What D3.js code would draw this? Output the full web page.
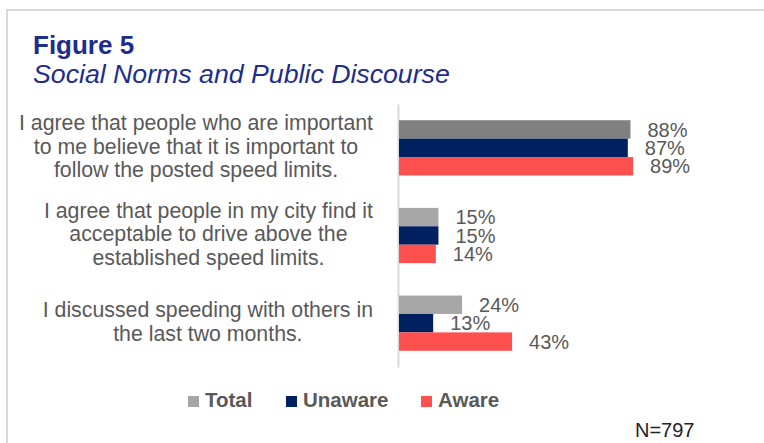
<!DOCTYPE html>
<html>
<head>
<meta charset="utf-8">
<script src="https://cdn.jsdelivr.net/npm/d3@7"></script>
<style>
  body { margin: 0; background: #fff; }
  svg { display: block; font-family: "Liberation Sans", Arial, sans-serif; }
</style>
</head>
<body>
<script>
// chart data
var categories = [
  ["I agree that people who are important", "to me believe that it is important to", "follow the posted speed limits."],
  ["I agree that people in my city find it", "acceptable to drive above the", "established speed limits."],
  ["I discussed speeding with others in", "the last two months."]
];
var seriesNames = ["Total", "Unaware", "Aware"];
var total = [88, 15, 24];
var unaware = [87, 15, 13];
var aware = [89, 14, 43];

var width = 764, height = 443;

var svg = d3.select("body").append("svg")
  .attr("width", width)
  .attr("height", height);

// frame (top + left only)
svg.append("path")
  .attr("d", "M7,443V10H764")
  .attr("fill", "none")
  .attr("stroke", "#d9d9d9")
  .attr("stroke-width", 2);

// titles
svg.append("text")
  .attr("x", 33).attr("y", 54)
  .attr("font-size", 26).attr("font-weight", "bold")
  .attr("fill", "#1e2d8c")
  .text("Figure 5");
svg.append("text")
  .attr("x", 33).attr("y", 83)
  .attr("font-size", 26.7).attr("font-style", "italic")
  .attr("fill", "#1e2d8c")
  .text("Social Norms and Public Discourse");

// scales
var x = d3.scaleLinear().domain([0, 100]).range([399, 662]);
var y = d3.scaleBand().domain(d3.range(categories.length))
  .range([104, 367]).paddingInner(0.37).paddingOuter(0.185);
var ySub = d3.scaleBand().domain(seriesNames).range([0, y.bandwidth()]);

var colors = {Total: "#a6a6a6", Unaware: "#002060", Aware: "#ff5050"};

var rows = categories.map(function(c, i) {
  return {i: i, values: [
    {key: "Total", v: total[i]},
    {key: "Unaware", v: unaware[i]},
    {key: "Aware", v: aware[i]}
  ]};
});

// axis line
svg.append("g")
  .attr("transform", "translate(398,0)")
  .call(d3.axisLeft(y).tickSize(0).tickFormat(""))
  .call(function(g) {
    g.select(".domain").attr("stroke", "#d9d9d9").attr("stroke-width", 2);
  });

var groups = svg.selectAll(".grp")
  .data(rows)
  .enter().append("g")
  .attr("class", "grp")
  .attr("transform", function(d) { return "translate(0," + y(d.i) + ")"; });

groups.selectAll("rect")
  .data(function(d) { return d.values.map(function(v) { v.i = d.i; return v; }); })
  .enter().append("rect")
  .attr("x", x(0))
  .attr("y", function(d) { return ySub(d.key); })
  .attr("width", function(d) { return x(d.v) - x(0); })
  .attr("height", ySub.bandwidth())
  .attr("fill", function(d) {
    // first group's Total bar is a darker grey in the original
    if (d.key == "Total" && d.i == 0) return "#808080";
    return colors[d.key];
  });

groups.selectAll(".lbl")
  .data(function(d) { return d.values; })
  .enter().append("text")
  .attr("class", "lbl")
  .attr("x", function(d) { return x(d.v) + 17; })
  .attr("y", function(d) { return ySub(d.key) + ySub.bandwidth() / 2; })
  .attr("dy", "0.36em")
  .attr("font-size", 20)
  .attr("fill", "#595959")
  .text(function(d) { return d.v + "%"; });

// category labels: centred block, right edge at 373
var lineH = 23.5;
categories.forEach(function(lines, i) {
  var cy = y(i) + y.bandwidth() / 2;
  var t = svg.append("text")
    .attr("font-size", 21.3)
    .attr("fill", "#595959")
    .attr("text-anchor", "middle");
  lines.forEach(function(s, k) {
    t.append("tspan")
      .attr("y", cy + (k - (lines.length - 1) / 2) * lineH)
      .attr("dy", "0.27em")
      .text(s);
  });
  var maxW = d3.max(t.selectAll("tspan").nodes(), function(n) { return n.getComputedTextLength(); });
  t.selectAll("tspan").attr("x", 373 - maxW / 2);
});

// legend
var legX = [188, 286, 421];
var leg = svg.selectAll(".leg")
  .data(seriesNames)
  .enter().append("g")
  .attr("class", "leg")
  .attr("transform", function(d, i) { return "translate(" + legX[i] + ",396)"; });
leg.append("rect")
  .attr("width", 11).attr("height", 11)
  .attr("fill", function(d) { return colors[d]; });
leg.append("text")
  .attr("x", 17).attr("y", 11)
  .attr("font-size", 20.5).attr("font-weight", "bold")
  .attr("fill", "#595959")
  .text(function(d) { return d; });

svg.append("text")
  .attr("x", 635).attr("y", 437)
  .attr("font-size", 20)
  .attr("fill", "#222")
  .text("N=797");
</script>
</body>
</html>
